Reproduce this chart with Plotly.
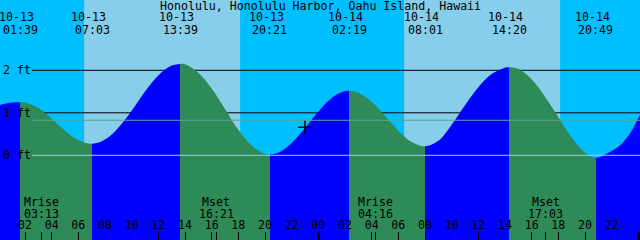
import plotly.graph_objects as go

# ---------------- data ----------------
title = "Honolulu, Honolulu Harbor, Oahu Island, Hawaii"

event_dates = ["10-13", "10-13", "10-13", "10-13", "10-14", "10-14", "10-14", "10-14"]
event_times = ["01:39", "07:03", "13:39", "20:21", "02:19", "08:01", "14:20", "20:49"]
event_kinds = ["high", "low", "high", "low", "high", "low", "high", "low"]
event_feet = [1.25, 0.27, 2.15, 0.02, 1.52, 0.21, 2.07, -0.06]

moon_labels = ["Mrise", "Mset", "Mrise", "Mset"]
moon_dates = ["10-13", "10-13", "10-14", "10-14"]
moon_times = ["03:13", "16:21", "04:16", "17:03"]

sun_dates = ["10-13", "10-14"]
sunrise_times = ["06:26", "06:26"]
sunset_times = ["18:08", "18:08"]

# tide height (hours from 10-13 00:00, feet)
curve_hours = [0.0, 0.5, 1.0, 1.65, 2, 3, 4, 5, 6, 7.05,
               8, 9, 10, 11, 12, 13, 13.65,
               14, 15, 16, 17, 18, 19, 20, 20.35,
               21, 22, 23, 24, 25, 26, 26.317,
               27, 28, 29, 30, 31, 32.017,
               33, 34, 35, 36, 37, 38, 38.333,
               39, 40, 41, 42, 43, 44, 44.817,
               45.5, 46, 46.5, 47, 47.5, 48, 48.4]
curve_feet = [1.17, 1.21, 1.24, 1.25, 1.24, 1.11, 0.86, 0.58, 0.36, 0.27,
              0.37, 0.65, 1.05, 1.50, 1.88, 2.11, 2.15,
              2.14, 1.94, 1.57, 1.09, 0.60, 0.23, 0.03, 0.02,
              0.06, 0.29, 0.64, 1.03, 1.35, 1.51, 1.52,
              1.47, 1.26, 0.93, 0.58, 0.31, 0.21,
              0.34, 0.72, 1.18, 1.60, 1.91, 2.06, 2.07,
              2.03, 1.79, 1.38, 0.90, 0.42, 0.06, -0.06,
              0.02, 0.10, 0.20, 0.36, 0.58, 0.88, 1.10]

level_feet = [2, 1, 0]
level_labels = ["2 ft", "1 ft", "0 ft"]
mean_level_feet = 0.824

now_hour = 23.0
now_feet = 0.66

tick_hours = list(range(0, 49, 2))
tick_labels = ["%02d" % (h % 24) for h in tick_hours]
midnight_hours = [0, 24, 48]

# ---------------- styles ----------------
W, H = 640, 240
X_RANGE = [0.125, 48.125]
Y_RANGE = [-1.993, 3.654]
NIGHT = "#00BFFF"
DAY = "#87CEEB"
RISE = "#0000FF"
FALL = "#2E8B57"
FONT = dict(family="DejaVu Sans Mono", size=11.6, color="black")


def to_hour(date, hm):
    day = 0 if date == "10-13" else 1
    hh, mm = hm.split(":")
    return day * 24 + int(hh) + int(mm) / 60.0


event_hours = [to_hour(d, t) for d, t in zip(event_dates, event_times)]
moon_hours = [to_hour(d, t) for d, t in zip(moon_dates, moon_times)]
sunrise_hours = [to_hour(d, t) for d, t in zip(sun_dates, sunrise_times)]
sunset_hours = [to_hour(d, t) for d, t in zip(sun_dates, sunset_times)]

# horizontal colour gradient: blue while rising, green while falling
g0, g1 = curve_hours[0], curve_hours[-1]


def pos(h):
    return min(1.0, max(0.0, (h - g0) / (g1 - g0)))


cs = []
prev = g0
for h, kind in zip(event_hours, event_kinds):
    col = RISE if kind == "high" else FALL
    cs.append([pos(prev), col])
    cs.append([pos(h), col])
    prev = h
last_col = RISE if event_kinds[-1] == "low" else FALL
cs.append([pos(prev), last_col])
cs.append([1.0, last_col])

fig = go.Figure()
fig.add_trace(go.Scatter(x=[g0, g1], y=[Y_RANGE[0] - 1] * 2, mode="lines",
                         line=dict(width=0), hoverinfo="skip", showlegend=False))
fig.add_trace(go.Scatter(x=curve_hours, y=curve_feet, mode="lines",
                         line=dict(shape="spline", width=0, color=RISE),
                         fill="tonexty",
                         fillgradient=dict(type="horizontal", colorscale=cs,
                                           start=g0, stop=g1),
                         hoverinfo="skip", showlegend=False))
fig.add_trace(go.Scatter(x=[now_hour], y=[now_feet], mode="markers",
                         marker=dict(symbol="cross-thin", size=10,
                                     line=dict(color="black", width=1.5)),
                         hoverinfo="skip", showlegend=False))
# helper traces carrying the extra tick axes
fig.add_trace(go.Scatter(x=moon_hours, y=[Y_RANGE[0] - 1] * len(moon_hours),
                         xaxis="x2", mode="markers", marker=dict(opacity=0),
                         hoverinfo="skip", showlegend=False))
fig.add_trace(go.Scatter(x=midnight_hours, y=[Y_RANGE[0] - 1] * len(midnight_hours),
                         xaxis="x3", mode="markers", marker=dict(opacity=0),
                         hoverinfo="skip", showlegend=False))

shapes = []
for a, b in zip(sunrise_hours, sunset_hours):
    shapes.append(dict(type="rect", xref="x", yref="paper", x0=a, x1=b, y0=0, y1=1,
                       fillcolor=DAY, line=dict(width=0), layer="below"))
for lv in level_feet[:2]:
    shapes.append(dict(type="line", xref="paper", yref="y", x0=0.05, x1=1, y0=lv, y1=lv,
                       line=dict(color="black", width=1), layer="below"))
shapes.append(dict(type="line", xref="paper", yref="y", x0=0.05, x1=1,
                   y0=mean_level_feet, y1=mean_level_feet,
                   line=dict(color="#5FA39A", width=1), layer="above"))
shapes.append(dict(type="line", xref="paper", yref="y", x0=0.05, x1=1,
                   y0=level_feet[2], y1=level_feet[2],
                   line=dict(color="#8FD3E6", width=1), layer="above"))

ann = []


def py(pix):
    return 1 - pix / H


ann.append(dict(text=title, x=0.5, y=py(6), xref="paper", yref="paper",
                xanchor="center", yanchor="middle", showarrow=False, font=FONT))
for d, t, h in zip(event_dates, event_times, event_hours):
    ann.append(dict(text=d, x=h, xshift=-3.5, y=py(17.5), xref="x", yref="paper",
                    xanchor="center", yanchor="middle", showarrow=False, font=FONT))
    ann.append(dict(text=t, x=h, y=py(29.5), xref="x", yref="paper",
                    xanchor="center", yanchor="middle", showarrow=False, font=FONT))
for lab, t, h in zip(moon_labels, moon_times, moon_hours):
    ann.append(dict(text=lab, x=h, y=py(202), xref="x", yref="paper",
                    xanchor="center", yanchor="middle", showarrow=False, font=FONT))
    ann.append(dict(text=t, x=h, y=py(213.8), xref="x", yref="paper",
                    xanchor="center", yanchor="middle", showarrow=False, font=FONT))
for lv, lab in zip(level_feet, level_labels):
    ann.append(dict(text=lab, x=0, xshift=1, y=lv, xref="paper", yref="y",
                    xanchor="left", yanchor="middle", showarrow=False, font=FONT))

axis_common = dict(range=X_RANGE, showgrid=False, zeroline=False, showline=False,
                   ticks="inside", ticklen=8, tickcolor="black", fixedrange=True)
fig.update_layout(
    width=W, height=H, margin=dict(l=0, r=0, t=0, b=0, pad=0),
    paper_bgcolor=NIGHT, plot_bgcolor=NIGHT, showlegend=False,
    xaxis=dict(**axis_common, tickvals=tick_hours, ticktext=tick_labels, tickwidth=1,
               ticklabelposition="inside", tickfont=FONT),
    xaxis2=dict(**axis_common, overlaying="x", side="bottom", tickvals=moon_hours,
                tickwidth=1, showticklabels=False),
    xaxis3=dict(**axis_common, overlaying="x", side="bottom", tickvals=midnight_hours,
                tickwidth=3, showticklabels=False),
    yaxis=dict(range=Y_RANGE, visible=False, fixedrange=True),
    shapes=shapes, annotations=ann,
)

fig.write_html("out.html")
